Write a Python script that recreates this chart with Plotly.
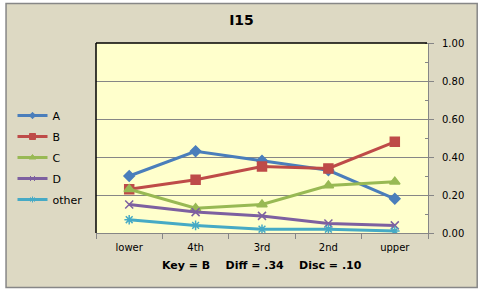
import plotly.graph_objects as go

categories = ["lower", "4th", "3rd", "2nd", "upper"]
series_names = ["A", "B", "C", "D", "other"]
A = [0.30, 0.43, 0.38, 0.33, 0.18]
B = [0.23, 0.28, 0.35, 0.34, 0.48]
C = [0.23, 0.13, 0.15, 0.25, 0.27]
D = [0.15, 0.11, 0.09, 0.05, 0.04]
other = [0.07, 0.04, 0.02, 0.02, 0.01]
y_ticks = [0.0, 0.2, 0.4, 0.6, 0.8, 1.0]

colors = ["#4A7EBB", "#BE4B48", "#98B954", "#7D60A0", "#46AAC5"]
symbols = ["diamond", "square", "triangle-up", "x-thin-open", "asterisk-open"]
sizes = [8, 9, 9, 8, 8]
legend_sizes = [5, 6, 6, 5, 5]

W, H = 483, 291
L, R, T, Bt = 94, 428, 43, 233

fig = go.Figure()
for name, vals, col, sym, sz, lsz in zip(series_names, [A, B, C, D, other], colors, symbols, sizes, legend_sizes):
    fig.add_trace(go.Scatter(
        x=categories, y=vals, name=name, mode="lines+markers",
        line=dict(color=col, width=3),
        marker=dict(symbol=sym, size=sz, color=col, line=dict(color=col, width=1.5)),
        legendgroup=name, showlegend=False,
    ))
    # legend entry with the small Excel-style legend marker
    fig.add_trace(go.Scatter(
        x=[None], y=[None], name=name, mode="lines+markers",
        line=dict(color=col, width=3),
        marker=dict(symbol=sym, size=lsz, color=col, line=dict(color=col, width=1)),
        legendgroup=name, showlegend=True, hoverinfo="skip",
    ))

def px_x(p):
    return (p - L) / (R - L)

def px_y(p):
    return (Bt - p) / (Bt - T)

fig.update_layout(
    width=W, height=H,
    margin=dict(l=L, r=W - R, t=T, b=H - Bt, pad=0),
    paper_bgcolor="white",
    plot_bgcolor="#FFFFCC",
    font=dict(family="DejaVu Sans", size=10, color="#000000"),
    title=dict(text="<b>I15</b>", x=0.5, xref="container", y=1 - 20 / H, yref="container",
               xanchor="center", yanchor="middle", font=dict(size=14, color="#000000")),
    showlegend=True,
    legend=dict(x=px_x(10), xanchor="left", y=px_y(101), yanchor="top",
                font=dict(size=11, color="#000000"), bgcolor="rgba(0,0,0,0)",
                tracegroupgap=2, itemwidth=30, traceorder="grouped"),
    xaxis=dict(type="category", tickson="boundaries", ticks="outside", ticklen=5,
               tickcolor="#868686", showline=True, linecolor="#868686", linewidth=1,
               showgrid=False, range=[-0.5, 4.5], tickfont=dict(size=10),
               ticklabelstandoff=5),
    yaxis=dict(side="right", range=[0, 1], tickvals=y_ticks, tickformat=".2f",
               ticks="outside", ticklen=5, tickcolor="#868686", showline=True,
               linecolor="#868686", linewidth=1, showgrid=True, gridcolor="#868686",
               gridwidth=1, zeroline=False, tickfont=dict(size=10), ticklabelstandoff=6,
               minor=dict(dtick=0.1, ticks="inside", ticklen=3, tickcolor="#868686", showgrid=False)),
    shapes=[
        dict(type="rect", xref="paper", yref="paper", x0=px_x(3.5), x1=px_x(477.5),
             y0=px_y(3.5), y1=px_y(287.5), fillcolor="#DDD9C3",
             line=dict(color="#878787", width=1.5), layer="below"),
        dict(type="rect", xref="paper", yref="paper", x0=0, x1=1, y0=0, y1=1,
             fillcolor="#FFFFCC", line=dict(width=0), layer="below"),
        dict(type="line", xref="paper", yref="paper", x0=0, x1=0, y0=0, y1=1,
             line=dict(color="black", width=1.5)),
        dict(type="line", xref="paper", yref="paper", x0=0, x1=px_x(427), y0=1, y1=1,
             line=dict(color="black", width=1.5)),
    ],
    annotations=[
        dict(text="<b>Key = B\u00a0\u00a0\u00a0\u00a0Diff = .34\u00a0\u00a0\u00a0\u00a0Disc = .10</b>",
             xref="paper", yref="paper", x=0.5, y=px_y(265), xanchor="center", yanchor="middle",
             showarrow=False, font=dict(size=11, color="#000000")),
    ],
)

fig.write_html("out.html")
